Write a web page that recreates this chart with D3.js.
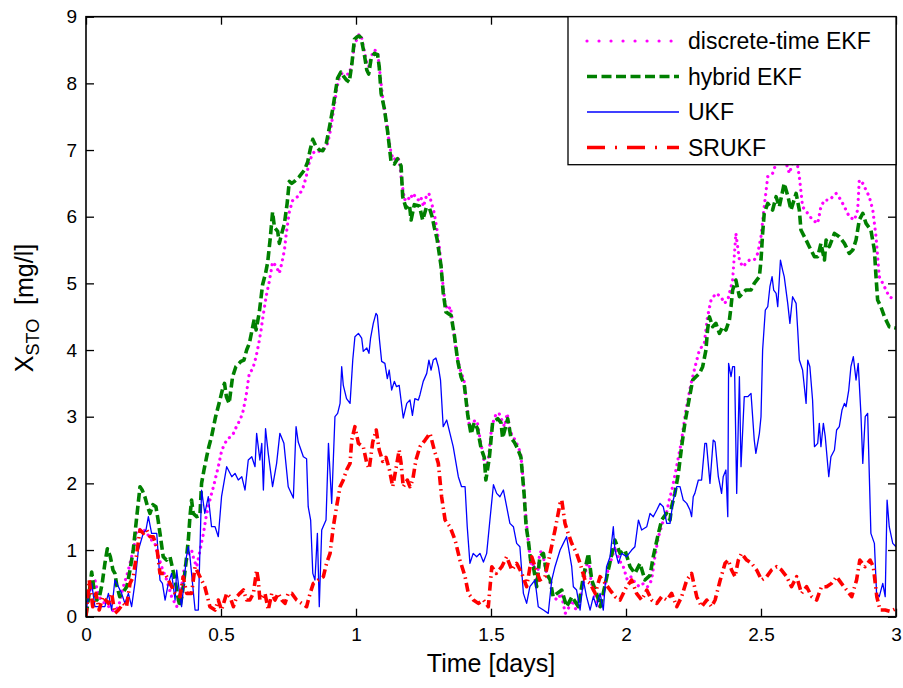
<!DOCTYPE html>
<html><head><meta charset="utf-8">
<script src="https://cdn.jsdelivr.net/npm/d3@7"></script>
<style>body{margin:0;background:#fff} text{font-family:Arial,"Liberation Sans",sans-serif;fill:#000}</style>
</head><body><svg id="c" width="903" height="688"></svg>
<script>
// ---- data ----
const xTicks = [0, 0.5, 1, 1.5, 2, 2.5, 3];
const xTickLabels = ["0", "0.5", "1", "1.5", "2", "2.5", "3"];
const yTicks = [0, 1, 2, 3, 4, 5, 6, 7, 8, 9];
const seriesNames = ["discrete-time EKF", "hybrid EKF", "UKF", "SRUKF"];

const dekfT = [0,0.012,0.022,0.033,0.045,0.055,0.07,0.085,0.095,0.107,0.12,0.13,0.138,0.15,0.16,0.169,0.18,0.188,0.197,0.206,0.215,0.225,0.235,0.243,0.255,0.265,0.28,0.299,0.317,0.336,0.345,0.354,0.363,0.373,0.382,0.391,0.4,0.41,0.42,0.435,0.445,0.453,0.462,0.472,0.49,0.503,0.521,0.535,0.546,0.557,0.57,0.58,0.593,0.605,0.617,0.63,0.64,0.648,0.654,0.667,0.679,0.691,0.704,0.716,0.725,0.735,0.741,0.753,0.765,0.775,0.784,0.802,0.815,0.827,0.84,0.852,0.865,0.877,0.895,0.907,0.92,0.93,0.938,0.948,0.957,0.975,0.985,0.994,1.005,1.012,1.02,1.03,1.04,1.047,1.056,1.068,1.08,1.09,1.1,1.11,1.12,1.13,1.14,1.15,1.16,1.17,1.18,1.19,1.2,1.21,1.22,1.23,1.24,1.25,1.26,1.27,1.28,1.29,1.3,1.31,1.32,1.33,1.34,1.35,1.36,1.37,1.38,1.39,1.4,1.41,1.42,1.43,1.44,1.45,1.46,1.47,1.48,1.49,1.5,1.51,1.52,1.53,1.54,1.55,1.56,1.57,1.58,1.59,1.6,1.61,1.62,1.63,1.64,1.65,1.66,1.67,1.68,1.69,1.7,1.71,1.72,1.73,1.745,1.76,1.775,1.79,1.8,1.815,1.83,1.845,1.86,1.87,1.885,1.9,1.915,1.93,1.945,1.96,1.975,1.99,2.005,2.02,2.035,2.05,2.065,2.08,2.095,2.105,2.12,2.135,2.15,2.16,2.17,2.185,2.204,2.222,2.241,2.259,2.272,2.29,2.302,2.315,2.333,2.352,2.364,2.377,2.395,2.407,2.42,2.432,2.457,2.475,2.488,2.5,2.512,2.525,2.543,2.556,2.568,2.574,2.586,2.605,2.617,2.63,2.642,2.654,2.673,2.691,2.71,2.722,2.735,2.753,2.778,2.796,2.815,2.827,2.846,2.858,2.864,2.877,2.901,2.914,2.926,2.938,2.951,2.975,3.0];
const dekfV = [0.05,0.35,0.5,0.55,0.35,0.25,0.2,0.15,0.1,0.08,0.15,0.3,0.45,0.6,0.75,0.9,1.1,1.3,1.3,1.33,1.3,1.25,1.2,1.15,1.1,0.95,0.75,0.55,0.3,0.15,0.3,0.45,0.7,0.85,0.95,1.0,0.85,0.75,0.95,1.25,1.5,1.65,1.8,1.95,2.25,2.5,2.65,2.7,2.75,2.85,2.95,3.05,3.31,3.66,3.71,3.9,4.1,4.29,4.46,4.8,5.03,5.32,5.26,5.15,5.3,5.5,5.72,6.07,6.24,6.28,6.3,6.41,6.59,6.82,6.95,6.99,6.98,6.99,7.1,7.33,7.68,7.95,8.08,8.15,8.14,8.14,8.3,8.57,8.68,8.74,8.7,8.5,8.3,8.25,8.4,8.5,8.48,8.1,7.75,7.5,7.2,6.95,6.85,6.9,6.85,6.5,6.25,6.3,6.25,6.35,6.3,6.25,6.3,6.15,6.3,6.35,6.2,6.05,5.8,5.5,5.05,4.7,4.6,4.65,4.35,4.0,3.8,3.65,3.55,3.2,2.85,2.85,2.95,2.9,2.65,2.45,2.2,2.35,2.75,2.95,3.05,3.05,2.95,2.85,3.05,2.8,2.7,2.65,2.55,2.45,2.0,1.45,1.05,0.75,0.8,0.5,0.95,1.0,0.75,0.6,0.5,0.3,0.25,0.35,0.05,0.15,0.25,0.1,0.3,0.55,0.9,0.55,0.3,0.15,0.3,0.65,0.85,1.05,0.85,0.75,0.55,0.6,0.5,0.45,0.5,0.45,0.55,0.85,1.2,1.4,1.55,1.75,1.9,2.2,2.6,3.1,3.5,3.8,4.0,4.1,4.5,4.75,4.85,4.8,4.7,4.75,5.05,5.75,5.35,5.25,5.35,5.35,5.45,5.7,6.15,6.6,6.65,6.8,6.85,7.0,6.9,6.65,6.8,6.9,6.6,6.15,6.05,5.95,5.9,6.15,6.25,6.25,6.35,6.25,6.1,6.0,5.95,6.1,6.55,6.5,6.3,6.1,5.7,5.1,5.0,4.8,4.75];

const hekfT = [0,0.01,0.021,0.03,0.04,0.05,0.06,0.07,0.079,0.09,0.1,0.107,0.115,0.125,0.135,0.151,0.163,0.175,0.188,0.2,0.208,0.218,0.228,0.237,0.248,0.259,0.267,0.274,0.286,0.298,0.311,0.322,0.33,0.34,0.348,0.355,0.36,0.37,0.379,0.385,0.391,0.397,0.41,0.422,0.428,0.437,0.447,0.455,0.465,0.48,0.496,0.505,0.513,0.52,0.53,0.543,0.555,0.574,0.585,0.595,0.605,0.615,0.623,0.63,0.642,0.654,0.665,0.673,0.683,0.691,0.698,0.71,0.716,0.725,0.735,0.745,0.753,0.762,0.772,0.79,0.809,0.821,0.83,0.84,0.852,0.865,0.877,0.89,0.901,0.914,0.925,0.932,0.944,0.955,0.965,0.975,0.985,0.994,1.005,1.012,1.019,1.031,1.04,1.047,1.056,1.068,1.08,1.086,1.093,1.105,1.117,1.13,1.142,1.154,1.167,1.173,1.185,1.198,1.204,1.216,1.235,1.247,1.26,1.272,1.282,1.29,1.3,1.315,1.323,1.333,1.352,1.364,1.377,1.389,1.401,1.414,1.426,1.438,1.45,1.463,1.475,1.481,1.494,1.506,1.525,1.537,1.543,1.562,1.574,1.586,1.6,1.611,1.623,1.63,1.638,1.648,1.657,1.669,1.681,1.694,1.706,1.719,1.73,1.745,1.762,1.78,1.8,1.824,1.842,1.861,1.873,1.891,1.905,1.929,1.959,1.978,1.996,2.015,2.033,2.052,2.07,2.089,2.101,2.12,2.132,2.15,2.163,2.169,2.181,2.194,2.206,2.218,2.231,2.247,2.259,2.272,2.284,2.296,2.302,2.309,2.321,2.333,2.346,2.358,2.37,2.383,2.389,2.395,2.407,2.42,2.432,2.444,2.463,2.475,2.494,2.5,2.506,2.512,2.525,2.543,2.556,2.568,2.586,2.6,2.611,2.63,2.642,2.648,2.667,2.679,2.698,2.71,2.722,2.735,2.741,2.753,2.772,2.79,2.809,2.827,2.84,2.852,2.864,2.877,2.889,2.907,2.92,2.926,2.932,2.944,2.957,2.975,3.0];
const hekfV = [0.02,0.3,0.67,0.4,0.25,0.3,0.5,0.8,1.02,0.9,0.7,0.65,0.45,0.3,0.35,0.45,0.7,1.0,1.5,1.95,1.9,1.8,1.65,1.55,1.68,1.65,1.45,1.25,0.9,0.85,0.9,0.7,0.55,0.3,0.15,0.3,0.45,0.8,1.15,1.5,1.75,1.55,1.5,1.52,2.0,2.2,2.4,2.55,2.7,3.0,3.25,3.4,3.5,3.3,3.2,3.6,3.75,3.83,3.85,4.0,4.1,4.3,4.46,4.3,4.57,4.98,5.15,5.32,5.7,6.07,5.84,5.78,5.6,5.75,5.9,6.2,6.53,6.5,6.53,6.6,6.7,6.82,7.0,7.16,7.05,7.0,6.99,7.1,7.33,7.62,7.9,8.08,8.17,8.1,8.05,8.02,8.3,8.66,8.7,8.71,8.68,8.43,8.2,8.14,8.37,8.45,8.43,8.25,7.85,7.62,7.28,6.82,6.79,6.87,6.76,6.3,6.13,6.18,5.95,6.18,6.16,5.95,6.13,6.13,6.0,5.84,5.67,5.26,4.86,4.57,4.52,4.23,3.83,3.6,3.48,3.02,2.74,2.91,2.82,2.53,2.39,2.05,2.39,2.91,2.97,2.91,2.68,2.97,2.68,2.62,2.51,2.39,1.82,1.36,1.15,0.8,0.75,0.45,0.9,0.95,0.65,0.55,0.3,0.35,0.4,0.15,0.3,0.15,0.6,0.95,0.55,0.35,0.15,0.6,1.15,0.95,1.0,0.75,0.65,0.8,0.55,0.62,0.9,1.25,1.45,1.55,1.45,1.65,1.85,2.15,2.55,2.9,3.2,3.55,3.6,3.65,3.75,4.0,4.3,4.5,4.35,4.4,4.25,4.35,4.3,4.45,4.65,4.9,5.05,4.8,4.85,4.9,4.9,5.0,5.1,5.35,5.75,6.05,6.2,6.1,6.3,6.15,6.5,6.3,6.1,6.35,6.1,5.8,5.65,5.55,5.4,5.4,5.6,5.35,5.65,5.55,5.75,5.7,5.6,5.45,5.5,5.65,5.95,6.05,5.9,5.8,5.5,5.1,4.75,4.65,4.5,4.35,4.33];

const ukfT = [0,0.01,0.021,0.033,0.052,0.07,0.083,0.095,0.107,0.12,0.132,0.144,0.157,0.169,0.181,0.194,0.212,0.222,0.231,0.243,0.262,0.268,0.274,0.283,0.293,0.305,0.317,0.33,0.336,0.345,0.354,0.365,0.372,0.379,0.385,0.391,0.404,0.416,0.428,0.44,0.453,0.465,0.478,0.49,0.502,0.521,0.54,0.552,0.564,0.577,0.589,0.601,0.614,0.626,0.632,0.644,0.651,0.657,0.665,0.675,0.691,0.706,0.718,0.733,0.749,0.768,0.778,0.786,0.805,0.817,0.823,0.832,0.84,0.848,0.857,0.864,0.873,0.889,0.898,0.91,0.922,0.932,0.941,0.947,0.953,0.965,0.978,0.988,0.996,1.009,1.021,1.027,1.04,1.048,1.054,1.064,1.074,1.079,1.087,1.095,1.107,1.116,1.123,1.132,1.142,1.15,1.16,1.175,1.188,1.2,1.209,1.218,1.231,1.237,1.249,1.262,1.27,1.278,1.286,1.296,1.305,1.313,1.323,1.336,1.348,1.36,1.379,1.391,1.404,1.412,1.422,1.434,1.447,1.459,1.472,1.484,1.496,1.509,1.521,1.533,1.546,1.558,1.57,1.583,1.595,1.607,1.62,1.632,1.644,1.663,1.675,1.694,1.712,1.725,1.737,1.756,1.768,1.78,1.799,1.805,1.817,1.83,1.842,1.854,1.867,1.879,1.891,1.904,1.916,1.928,1.941,1.953,1.959,1.972,1.984,2.002,2.021,2.033,2.046,2.058,2.077,2.089,2.101,2.114,2.126,2.138,2.151,2.163,2.175,2.188,2.2,2.212,2.225,2.237,2.243,2.249,2.255,2.268,2.28,2.292,2.298,2.311,2.323,2.33,2.342,2.354,2.36,2.37,2.377,2.38,2.389,2.395,2.402,2.41,2.42,2.426,2.438,2.451,2.463,2.475,2.481,2.494,2.5,2.506,2.516,2.525,2.533,2.541,2.547,2.556,2.562,2.572,2.58,2.586,2.599,2.607,2.617,2.63,2.636,2.642,2.654,2.667,2.673,2.681,2.691,2.698,2.71,2.716,2.722,2.731,2.738,2.751,2.759,2.772,2.78,2.79,2.8,2.809,2.815,2.825,2.833,2.842,2.852,2.86,2.87,2.877,2.886,2.895,2.907,2.92,2.928,2.938,2.951,2.96,2.967,2.975,2.988,3.0];
const ukfV = [0.1,0.3,0.5,0.15,0.15,0.15,0.35,0.1,0.55,0.45,0.35,0.2,0.35,0.15,0.5,1.0,1.25,1.3,1.5,1.25,1.25,0.9,0.55,0.5,0.25,0.5,0.65,0.25,0.7,0.4,0.15,0.6,0.9,1.05,0.9,0.65,0.1,0.1,1.9,1.55,1.8,1.35,1.35,1.2,1.8,2.25,2.1,2.15,2.05,2.1,1.9,2.35,2.4,2.25,2.75,2.35,2.6,1.9,2.82,2.45,1.95,2.3,2.75,2.6,1.95,1.78,2.85,2.62,2.4,2.37,1.65,1.45,0.65,0.55,1.25,0.15,1.3,1.45,2.6,1.7,3.0,3.05,3.2,3.75,3.47,3.27,3.2,3.85,4.2,4.25,4.18,3.98,4.03,3.95,4.18,4.4,4.55,4.52,4.15,3.83,3.8,3.57,3.7,3.4,3.53,3.45,3.47,2.98,3.2,3.25,3.02,3.27,3.25,3.33,3.53,3.65,3.85,3.7,3.85,3.88,3.75,3.55,2.85,2.95,2.75,2.55,2.1,1.95,1.95,1.35,0.8,0.95,0.9,0.95,0.82,0.95,1.45,1.98,1.85,1.8,1.9,1.65,1.4,1.35,1.1,1.05,0.35,0.2,0.45,0.55,0.15,0.1,0.05,0.55,0.75,1.0,1.1,1.2,0.75,0.45,0.4,0.1,0.55,0.3,0.1,0.3,0.15,0.35,0.1,0.75,0.9,1.35,1.0,0.8,0.95,0.9,1.0,1.05,1.45,1.3,1.35,1.55,1.5,1.6,1.7,1.65,1.4,1.4,1.75,1.95,1.95,1.75,1.7,1.6,1.5,1.8,1.85,2.05,2.05,2.6,2.6,2.0,2.65,2.62,2.1,1.85,2.1,2.2,1.5,3.8,3.6,3.75,3.75,1.85,3.6,2.25,3.3,3.3,3.35,2.65,2.45,2.75,3.0,4.0,4.6,4.65,4.95,5.1,4.9,4.85,4.65,5.35,5.2,5.1,4.7,4.4,4.8,4.7,4.3,3.85,3.7,3.2,3.85,3.75,3.25,2.55,2.6,2.9,2.55,2.9,2.7,2.1,2.4,2.5,2.8,2.85,3.1,3.2,3.15,3.4,3.75,3.9,3.55,3.8,3.05,2.3,3.0,3.05,1.25,1.1,0.35,0.3,0.5,0.3,1.75,1.35,1.1,1.05];

const srukfT = [0,0.012,0.025,0.037,0.049,0.062,0.083,0.095,0.107,0.12,0.138,0.15,0.163,0.175,0.188,0.2,0.212,0.225,0.237,0.249,0.262,0.274,0.293,0.311,0.33,0.348,0.36,0.373,0.391,0.404,0.422,0.44,0.459,0.478,0.49,0.502,0.521,0.533,0.546,0.558,0.57,0.583,0.595,0.607,0.62,0.632,0.638,0.644,0.663,0.675,0.688,0.7,0.712,0.725,0.737,0.749,0.762,0.78,0.799,0.817,0.83,0.842,0.86,0.879,0.891,0.904,0.916,0.928,0.941,0.953,0.965,0.978,0.984,0.996,1.009,1.027,1.04,1.049,1.062,1.075,1.086,1.099,1.111,1.123,1.136,1.148,1.16,1.167,1.175,1.19,1.2,1.21,1.222,1.237,1.256,1.274,1.29,1.305,1.317,1.33,1.348,1.367,1.385,1.404,1.416,1.435,1.453,1.472,1.49,1.503,1.52,1.54,1.558,1.577,1.595,1.614,1.632,1.651,1.663,1.681,1.7,1.719,1.737,1.756,1.762,1.774,1.786,1.799,1.817,1.83,1.848,1.867,1.886,1.904,1.923,1.941,1.96,1.978,2.002,2.021,2.039,2.058,2.077,2.095,2.114,2.132,2.151,2.169,2.188,2.206,2.225,2.243,2.262,2.28,2.299,2.317,2.33,2.349,2.367,2.379,2.391,2.404,2.416,2.428,2.447,2.465,2.484,2.502,2.521,2.539,2.558,2.576,2.595,2.613,2.632,2.65,2.669,2.688,2.706,2.724,2.743,2.761,2.78,2.798,2.817,2.836,2.854,2.866,2.885,2.904,2.916,2.929,2.941,2.96,2.978,3.0];
const srukfV = [0.0,0.55,0.15,0.35,0.1,0.3,0.2,0.35,0.05,0.1,0.2,0.15,0.5,0.6,0.95,1.3,1.25,1.3,1.2,1.2,1.05,0.65,0.65,0.5,0.35,0.3,0.6,0.35,0.35,0.75,0.6,0.45,0.15,0.1,0.25,0.1,0.35,0.3,0.15,0.3,0.35,0.4,0.25,0.25,0.35,0.7,0.55,0.25,0.35,0.1,0.35,0.25,0.35,0.25,0.2,0.35,0.35,0.25,0.2,0.15,0.35,0.5,0.55,0.6,0.8,0.95,1.35,1.65,1.95,2.05,2.2,2.3,2.65,2.85,2.6,2.55,2.3,2.22,2.62,2.8,2.5,2.33,2.39,2.22,1.95,2.22,2.5,2.3,1.95,2.05,1.95,2.05,2.35,2.55,2.65,2.75,2.5,2.3,1.8,1.45,1.35,1.15,0.85,0.6,0.35,0.25,0.2,0.25,0.15,0.75,0.65,0.75,0.9,0.7,0.8,0.65,0.45,0.9,0.75,0.55,0.6,0.95,1.3,1.7,1.75,1.4,1.25,1.1,0.95,0.8,0.55,0.5,0.35,0.6,0.5,0.4,0.3,0.25,0.45,0.55,0.35,0.25,0.4,0.25,0.2,0.3,0.25,0.35,0.15,0.3,0.55,0.65,0.3,0.15,0.25,0.15,0.25,0.55,0.8,0.85,0.7,0.6,0.85,0.95,0.85,0.8,0.7,0.55,0.6,0.7,0.75,0.7,0.6,0.45,0.6,0.35,0.45,0.3,0.25,0.45,0.45,0.5,0.6,0.5,0.4,0.3,0.55,0.85,0.75,0.85,0.75,0.3,0.1,0.1,0.08,0.12];

// ---- layout ----
const svg = d3.select("#c");
const L = 86, R = 896, T = 16.7, B = 616.7;
const x = d3.scaleLinear().domain([0, 3]).range([L, R]);
const y = d3.scaleLinear().domain([0, 9]).range([B, T]);

svg.append("defs").append("clipPath").attr("id", "clip")
  .append("rect").attr("x", L).attr("y", T).attr("width", R - L).attr("height", B - T);

const styles = [
  {color: "#ff00ff", width: 3.2, dash: "0.01 6", legendDash: "0.01 12", cap: "round"},
  {color: "#008000", width: 3.6, dash: "9 4", legendDash: "10 4.5", cap: "butt"},
  {color: "#0000ff", width: 1.3, dash: null, legendDash: null, cap: "butt"},
  {color: "#ff0000", width: 3.6, dash: "9 4 1.5 4", legendDash: "18 10 2 10", cap: "butt"}
];
const data = [
  dekfT.map((t, i) => [t, dekfV[i]]),
  hekfT.map((t, i) => [t, hekfV[i]]),
  ukfT.map((t, i) => [t, ukfV[i]]),
  srukfT.map((t, i) => [t, srukfV[i]])
];

const line = d3.line().x(d => x(d[0])).y(d => y(d[1]));
const g = svg.append("g").attr("clip-path", "url(#clip)");
data.forEach((d, i) => {
  const s = styles[i];
  g.append("path").datum(d).attr("d", line)
    .attr("fill", "none").attr("stroke", s.color).attr("stroke-width", s.width)
    .attr("stroke-linecap", s.cap).attr("stroke-linejoin", "round")
    .attr("stroke-dasharray", s.dash);
});

// ---- axes ----
const fs = 19;
const ax = svg.append("g").attr("transform", `translate(0,${B})`)
  .call(d3.axisBottom(x).tickValues(xTicks).tickFormat((d, i) => xTickLabels[i]).tickSize(-8).tickPadding(11));
const ay = svg.append("g").attr("transform", `translate(${L},0)`)
  .call(d3.axisLeft(y).tickValues(yTicks).tickFormat(d3.format("d")).tickSize(-8).tickPadding(9));
const at = svg.append("g").attr("transform", `translate(0,${T})`)
  .call(d3.axisTop(x).tickValues(xTicks).tickFormat("").tickSize(-8));
const ar = svg.append("g").attr("transform", `translate(${R},0)`)
  .call(d3.axisRight(y).tickValues(yTicks).tickFormat("").tickSize(-8));
[ax, ay, at, ar].forEach(a => {
  a.select(".domain").remove();
  a.selectAll("line").attr("stroke", "#000").attr("stroke-width", 1.3);
  a.selectAll("text").attr("font-size", fs).attr("font-family", "Arial, 'Liberation Sans', sans-serif").attr("fill", "#000");
});
svg.append("rect").attr("x", L).attr("y", T).attr("width", R - L).attr("height", B - T)
  .attr("fill", "none").attr("stroke", "#000").attr("stroke-width", 1.6);

// axis labels
const lfs = 25;
svg.append("text").attr("x", (L + R) / 2).attr("y", 672).attr("text-anchor", "middle")
  .attr("font-size", lfs).text("Time [days]");
const yl = svg.append("text").attr("transform", "translate(33,308) rotate(-90)")
  .attr("text-anchor", "middle").attr("font-size", lfs);
yl.append("tspan").text("X");
yl.append("tspan").attr("font-size", 18).attr("dy", 6).text("STO");
yl.append("tspan").attr("dy", -6).attr("dx", 7).text(" [mg/l]");

// ---- legend ----
const lx = 568, ly = T, lw = R - 568, lh = 148;
svg.append("rect").attr("x", lx).attr("y", ly).attr("width", lw).attr("height", lh)
  .attr("fill", "#fff").attr("stroke", "#000").attr("stroke-width", 1.3);
const rows = [41, 76.5, 112, 147.5];
seriesNames.forEach((name, i) => {
  const s = styles[i];
  svg.append("line").attr("x1", 587).attr("x2", 679).attr("y1", rows[i]).attr("y2", rows[i])
    .attr("stroke", s.color).attr("stroke-width", s.width).attr("stroke-linecap", s.cap)
    .attr("stroke-dasharray", s.legendDash);
  svg.append("text").attr("x", 688).attr("y", rows[i] + 8).attr("font-size", 23).text(name);
});
</script></body></html>
